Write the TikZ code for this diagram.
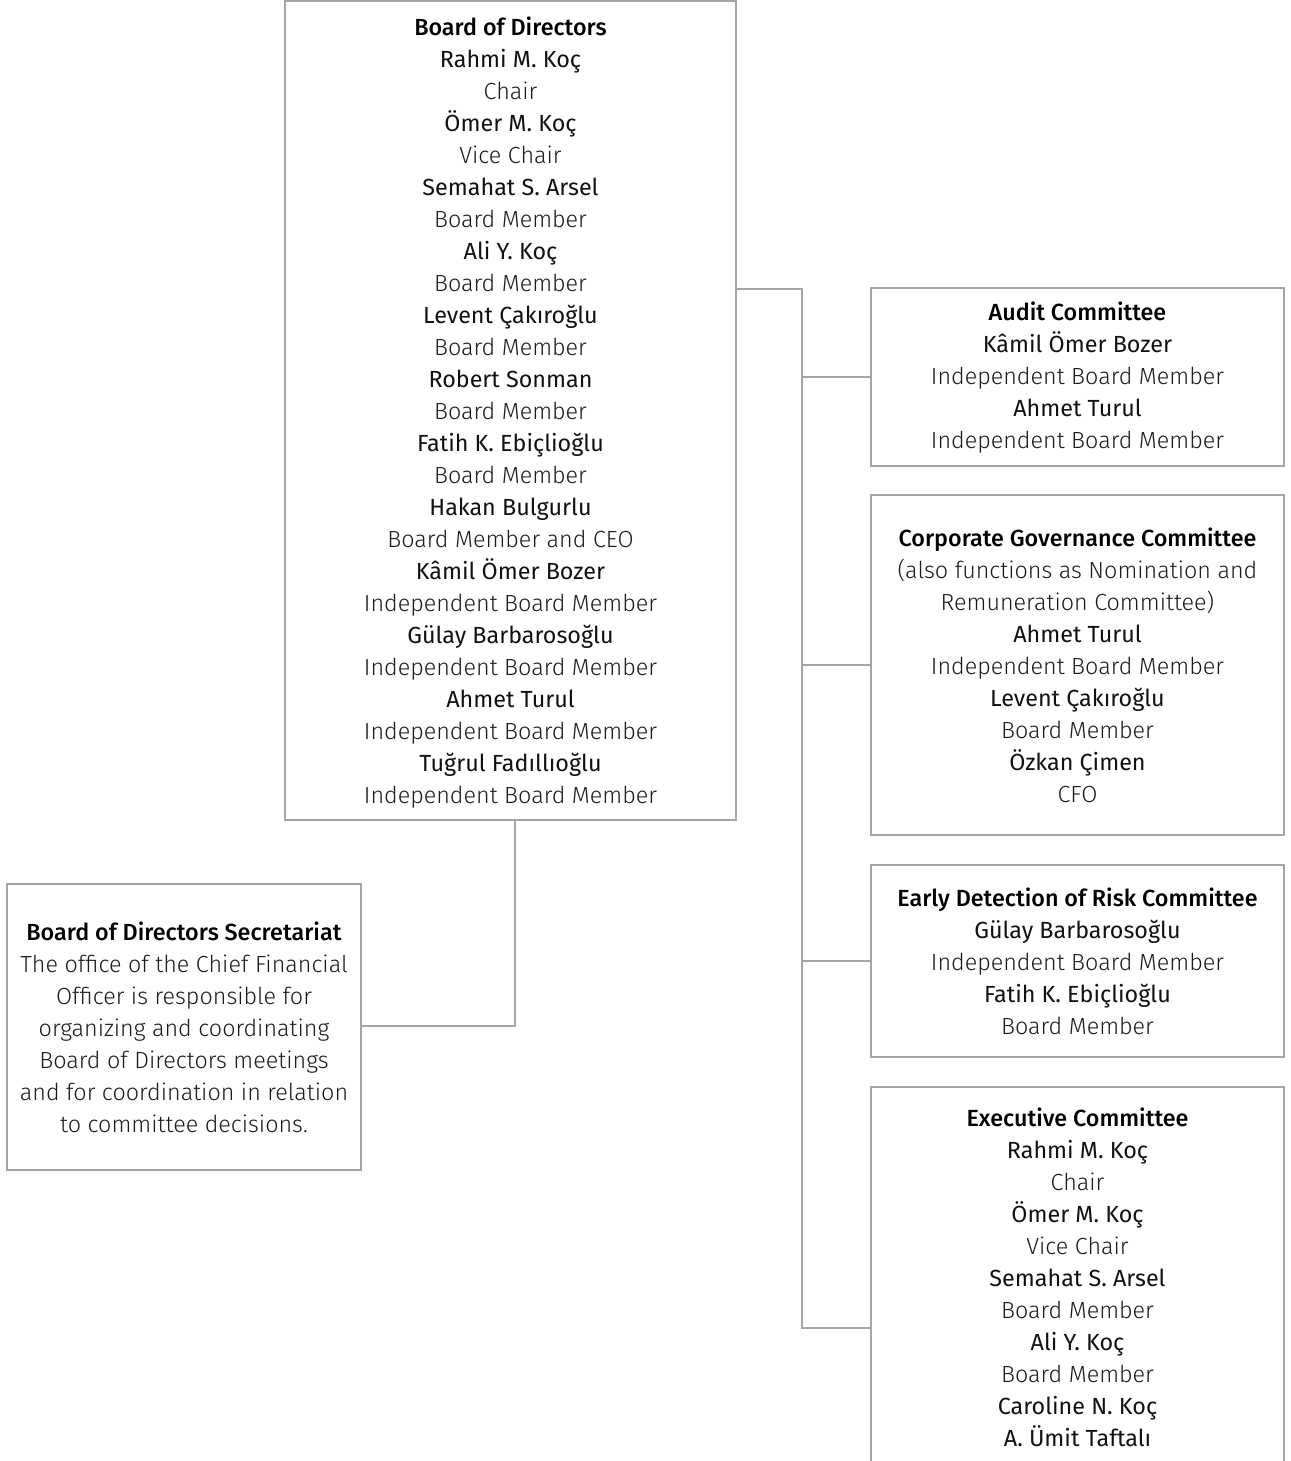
\documentclass[tikz,border=0pt]{standalone}
\usepackage{fontspec}
\setmainfont{Fira Sans}
\newfontfamily\hfont{Fira Sans Medium}
\newfontfamily\nfont{Fira Sans}
\newfontfamily\rfont{Fira Sans Light}
\definecolor{linec}{HTML}{A6A6A6}
\definecolor{hcol}{HTML}{000000}
\definecolor{ncol}{HTML}{111111}
\definecolor{rcol}{HTML}{1C1C1C}
\newcommand\hdg[1]{{\hfont\color{hcol}#1}}
\newcommand\nam[1]{{\nfont\color{ncol}#1}}
\newcommand\rol[1]{{\rfont\color{rcol}#1}}
\tikzset{
  box/.style={draw=linec, line width=1.5pt, align=center, inner sep=0pt,
    font=\fontsize{17.5}{24}\selectfont},
  conn/.style={draw=linec, line width=1.5pt}
}
\begin{document}
\begin{tikzpicture}[x=0.75pt,y=-0.75pt]
\useasboundingbox[fill=white] (0,0) rectangle (1290,1461);

\node[box, minimum width=338.25pt, minimum height=614.25pt] (bod) at (510.5,410.5) {%
\rule{0pt}{17pt}\hdg{Board of Directors}\\
\nam{Rahmi M. Koç}\\ \rol{Chair}\\
\nam{Ömer M. Koç}\\ \rol{Vice Chair}\\
\nam{Semahat S. Arsel}\\ \rol{Board Member}\\
\nam{Ali Y. Koç}\\ \rol{Board Member}\\
\nam{Levent Çakıroğlu}\\ \rol{Board Member}\\
\nam{Robert Sonman}\\ \rol{Board Member}\\
\nam{Fatih K. Ebiçlioğlu}\\ \rol{Board Member}\\
\nam{Hakan Bulgurlu}\\ \rol{Board Member and CEO}\\
\nam{Kâmil Ömer Bozer}\\ \rol{Independent Board Member}\\
\nam{Gülay Barbarosoğlu}\\ \rol{Independent Board Member}\\
\nam{Ahmet Turul}\\ \rol{Independent Board Member}\\
\nam{Tuğrul Fadıllıoğlu}\\ \rol{Independent Board Member}};

\node[box, minimum width=309.75pt, minimum height=133.5pt] (aud) at (1077.5,377) {%
\rule{0pt}{15pt}\hdg{Audit Committee}\\
\nam{Kâmil Ömer Bozer}\\ \rol{Independent Board Member}\\
\nam{Ahmet Turul}\\ \rol{Independent Board Member}};

\node[box, minimum width=309.75pt, minimum height=255pt] (cgc) at (1077.5,665) {%
\hdg{Corporate Governance Committee}\\
\rol{(also functions as Nomination and}\\
\rol{Remuneration Committee)}\\
\nam{Ahmet Turul}\\ \rol{Independent Board Member}\\
\nam{Levent Çakıroğlu}\\ \rol{Board Member}\\
\nam{Özkan Çimen}\\ \rol{CFO}};

\node[box, minimum width=309.75pt, minimum height=144pt] (edr) at (1077.5,961) {%
\hdg{Early Detection of Risk Committee}\\
\nam{Gülay Barbarosoğlu}\\ \rol{Independent Board Member}\\
\nam{Fatih K. Ebiçlioğlu}\\ \rol{Board Member}};

\node[box, minimum width=309.75pt, minimum height=285pt] (exe) at (1077.5,1277) {%
\hdg{Executive Committee}\\
\nam{Rahmi M. Koç}\\ \rol{Chair}\\
\nam{Ömer M. Koç}\\ \rol{Vice Chair}\\
\nam{Semahat S. Arsel}\\ \rol{Board Member}\\
\nam{Ali Y. Koç}\\ \rol{Board Member}\\
\nam{Caroline N. Koç}\\
\nam{A. Ümit Taftalı}};

\node[box, minimum width=265.5pt, minimum height=214.5pt] (sec) at (184,1027) {%
\hdg{Board of Directors Secretariat}\\
\rol{The office of the Chief Financial}\\
\rol{Officer is responsible for}\\
\rol{organizing and coordinating}\\
\rol{Board of Directors meetings}\\
\rol{and for coordination in relation}\\
\rol{to committee decisions.}};

% bus
\coordinate (btop) at (802,289);
\coordinate (bbot) at (802,1328);
\coordinate (exj) at (871,1328);
\coordinate (sj) at (515,1026);

\draw[conn] (bod.east |- btop) -- (btop) -- (bbot) -- (exj);
\draw[conn] (bbot |- aud.west) -- (aud.west);
\draw[conn] (bbot |- cgc.west) -- (cgc.west);
\draw[conn] (bbot |- edr.west) -- (edr.west);
\draw[conn] (bod.south -| sj) -- (sj) -- (sec.east |- sj);
\end{tikzpicture}
\end{document}
